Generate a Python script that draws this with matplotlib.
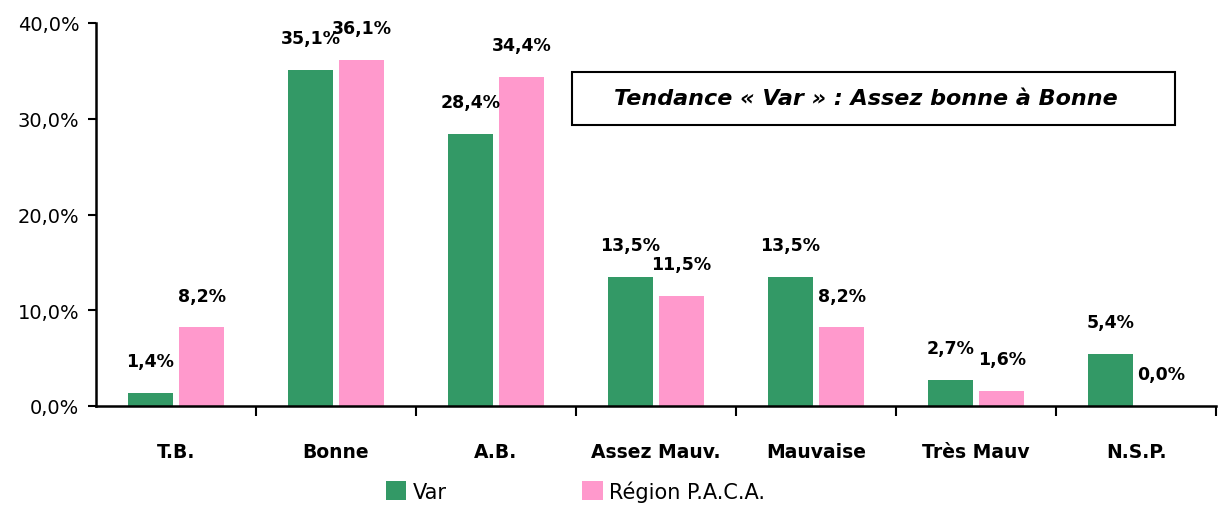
import matplotlib
matplotlib.use("Agg")
import matplotlib.pyplot as plt
import numpy as np
from matplotlib.ticker import FixedLocator, FuncFormatter
from matplotlib.patches import Rectangle

categories = ["T.B.", "Bonne", "A.B.", "Assez Mauv.", "Mauvaise", "Très Mauv", "N.S.P."]
var_values = [1.4, 35.1, 28.4, 13.5, 13.5, 2.7, 5.4]
paca_values = [8.2, 36.1, 34.4, 11.5, 8.2, 1.6, 0.0]
series_names = ["Var", "Région P.A.C.A."]
annotation = "Tendance « Var » : Assez bonne à Bonne"

green = "#339966"
pink = "#FF99CC"

fig = plt.figure(figsize=(12.19, 5.06), dpi=100)
ax = fig.add_axes([96/1219, 1-407/506, (1216-96)/1219, (407-24)/506])

x = np.arange(len(categories))
w = 0.28
off = 0.16
b1 = ax.bar(x - off, var_values, w, color=green, label=series_names[0])
b2 = ax.bar(x + off, paca_values, w, color=pink, label=series_names[1])

def fmt(v):
    return f"{v:.1f}%".replace(".", ",")

for bars, vals in ((b1, var_values), (b2, paca_values)):
    for r, v in zip(bars, vals):
        ax.annotate(fmt(v), (r.get_x() + r.get_width()/2, v), xytext=(0, 23),
                    textcoords="offset points", ha="center", va="center",
                    fontsize=12.5, fontweight="bold")

ax.set_xlim(-0.5, len(categories) - 0.5)
ax.set_ylim(0, 40)
ax.set_yticks([0, 10, 20, 30, 40])
ax.yaxis.set_major_formatter(FuncFormatter(lambda v, p: f"{v:.1f}%".replace(".", ",")))
ax.tick_params(axis="y", labelsize=14, length=6, width=1.5, direction="out", pad=6)

ax.set_xticks(x)
ax.set_xticklabels(categories, fontsize=13.5, fontweight="bold")
ax.tick_params(axis="x", which="major", length=0, pad=26)
ax.xaxis.set_minor_locator(FixedLocator(np.arange(0.5, len(categories), 1)))
ax.tick_params(axis="x", which="minor", length=7, width=1.5, direction="out")

for s in ("top", "right"):
    ax.spines[s].set_visible(False)
for s in ("left", "bottom"):
    ax.spines[s].set_linewidth(1.8)

fig.text(866/1219, 1-99/506, annotation, fontsize=16, fontweight="bold",
         style="italic", ha="center", va="center")
fig.patches.append(Rectangle((572/1219, 1-126/506), (1175-572)/1219, (126-73)/506,
                             transform=fig.transFigure, fill=False, edgecolor="black", lw=1.5))

leg = fig.legend(handles=[b1, b2], labels=series_names, loc="center", ncol=2,
                 bbox_to_anchor=(0.472, 1-492/506), frameon=False, fontsize=15,
                 handlelength=1.0, handleheight=1.0, columnspacing=6.5, handletextpad=0.3)

fig.savefig("out.png", dpi=100)
